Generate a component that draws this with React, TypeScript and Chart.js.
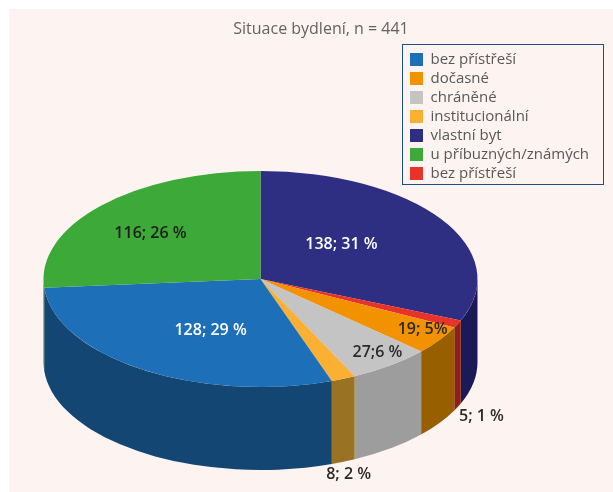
import React, { useEffect, useRef } from "react";
import { Chart, registerables } from "chart.js";

Chart.register(...registerables);

const titleText = "Situace bydlení, n = 441";
const categories = ["vlastní byt", "bez přístřeší", "dočasné", "chráněné", "institucionální", "bez přístřeší", "u příbuzných/známých"];
const values = [138, 5, 19, 27, 8, 128, 116];
const sliceLabels = ["138; 31 %", "5; 1 %", "19; 5%", "27;6 %", "8; 2 %", "128; 29 %", "116; 26 %"];
const legendOrder = [5, 2, 3, 4, 0, 6, 1];
const topColors = ["#2e2e82", "#e8332a", "#f39200", "#c4c4c4", "#fbb034", "#1d70b7", "#3ca938"];
const wallColors = ["#1b1a57", "#8e2018", "#985f00", "#9d9d9d", "#9a7223", "#134672", "#2a7a28"];
const labelColors = ["#ffffff", "#2b2a29", "#2b2a29", "#2b2a29", "#2b2a29", "#ffffff", "#1d1d1b"];
// label anchors, in units of the pie's projected radii
const labelAnchorX = [0.373, 1.018, 0.747, 0.539, 0.406, -0.23, -0.507];
const labelAnchorY = [-0.324, 1.269, 0.463, 0.676, 1.806, 0.472, -0.426];

const PIE_CY = 279;
const SQUASH = 108 / 217;
const DEPTH = 83;
const PANEL = "#fdf3f1";
const FONT = "'Open Sans'";

const pie3d = {
  id: "pie3d",
  beforeDraw(chart: any) {
    const { ctx, width, height } = chart;
    ctx.save();
    ctx.fillStyle = "#ffffff";
    ctx.fillRect(0, 0, width, height);
    ctx.fillStyle = PANEL;
    ctx.fillRect(9, 9, width - 9, height - 9);
    ctx.restore();
  },
  afterLayout(chart: any) {
    const t = chart.titleBlock;
    t.left = 121;
    t.right = 521;
    t.top = 2;
    t.bottom = 40;
    const l = chart.legend;
    l.left = 406;
    l.right = 603;
    l.top = 48;
    l.bottom = 185;
    l.width = 197;
    l.height = 137;
  },
  beforeDatasetsDraw(chart: any) {
    const { ctx } = chart;
    const arcs = chart.getDatasetMeta(0).data;
    const first = arcs[0];
    const cx = first.x;
    const rx = first.outerRadius;
    const ry = rx * SQUASH;
    arcs.forEach((arc: any, i: number) => {
      const a0 = Math.max(arc.startAngle, 0);
      const a1 = Math.min(arc.endAngle, Math.PI);
      if (a1 <= a0) return;
      ctx.beginPath();
      ctx.ellipse(cx, PIE_CY, rx, ry, 0, a0, a1, false);
      ctx.ellipse(cx, PIE_CY + DEPTH, rx, ry, 0, a1, a0, true);
      ctx.closePath();
      ctx.fillStyle = wallColors[i];
      ctx.fill();
    });
    ctx.save();
    ctx.translate(0, PIE_CY);
    ctx.scale(1, SQUASH);
    ctx.translate(0, -first.y);
  },
  afterDatasetsDraw(chart: any) {
    const { ctx } = chart;
    ctx.restore();
    const arcs = chart.getDatasetMeta(0).data;
    const first = arcs[0];
    const rx = first.outerRadius;
    const ry = rx * SQUASH;
    ctx.save();
    ctx.font = `600 16px ${FONT}`;
    ctx.textAlign = "center";
    ctx.textBaseline = "middle";
    sliceLabels.forEach((s, i) => {
      ctx.fillStyle = labelColors[i];
      ctx.fillText(s, first.x + labelAnchorX[i] * rx, PIE_CY + labelAnchorY[i] * ry);
    });
    ctx.restore();
  },
  afterDraw(chart: any) {
    const { ctx } = chart;
    ctx.save();
    ctx.strokeStyle = "#1d4f85";
    ctx.lineWidth = 1;
    ctx.strokeRect(402.5, 44.5, 201, 140);
    ctx.restore();
  },
};

export default function App() {
  const ref = useRef<HTMLCanvasElement>(null);
  useEffect(() => {
    const chart = new Chart(ref.current as HTMLCanvasElement, {
      type: "pie",
      data: {
        labels: categories,
        datasets: [{ data: values, backgroundColor: topColors, borderWidth: 0 }],
      },
      options: {
        animation: false,
        responsive: false,
        layout: { padding: { left: 43.5, right: 135.5, top: 0, bottom: 0 } },
        plugins: {
          tooltip: { enabled: false },
          title: {
            display: true,
            text: titleText,
            color: "#636365",
            font: { family: FONT, size: 16, weight: "normal" },
            padding: { top: 18, bottom: 0 },
          },
          legend: {
            position: "chartArea",
            align: "start",
            labels: {
              boxWidth: 13,
              boxHeight: 13,
              padding: 4,
              color: "#58585a",
              font: { family: FONT, size: 15 },
              sort: (a: any, b: any) => legendOrder.indexOf(a.index) - legendOrder.indexOf(b.index),
            },
          },
        },
      },
      plugins: [pie3d],
    } as any);
    return () => chart.destroy();
  }, []);
  return (
    <canvas
      ref={ref}
      width={613}
      height={492}
      style={{ position: "fixed", left: 0, top: 0, display: "block", width: 613, height: 492 }}
    />
  );
}
